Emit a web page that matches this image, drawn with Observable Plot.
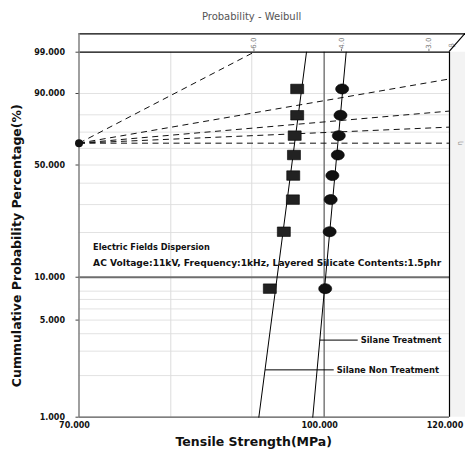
<!DOCTYPE html>
<html><head><meta charset="utf-8">
<script src="https://cdn.jsdelivr.net/npm/d3@7"></script>
<script src="https://cdn.jsdelivr.net/npm/@observablehq/plot@0.6"></script>
<style>body{margin:0;background:#fff} svg{display:block}</style>
</head><body><div id="chart"></div>
<script>
// ---- data ----
const probs = [8.33, 20.24, 32.14, 44.05, 55.95, 67.86, 79.76, 91.67];   // median ranks, %
const nonTreat = [92.4, 94.3, 95.55, 95.6, 95.7, 95.8, 96.15, 96.15];   // MPa
const treat = [100.15, 100.8, 100.95, 101.2, 102.0, 102.15, 102.4, 102.65]; // MPa
const seriesNames = ["Silane Non Treatment", "Silane Treatment"];
const fitEta = [95.79, 102.01];
const fitBeta = [88.4, 126];
const labelP = [2.2, 3.6];
const labelX = [101.4, 105.0];
const betaLines = [6, 2, 1, 0.5, 0];
const betaTicks = [6, 4, 3];
const yTicks = [1, 5, 10, 50, 90, 99];
const yGrid = [2, 3, 4, 5, 6, 7, 8, 20, 30, 40, 50, 60, 70, 80, 90];
const xTicks = [70, 100, 120];
const xGrid = [80, 90];
const pivotX = 70, pivotP = 63.212;
const annotLines = ["Electric Fields Dispersion", "AC Voltage:11kV, Frequency:1kHz, Layered Silicate Contents:1.5phr"];
const annotP = [15.85, 12.57];
const annotX = 71.45;
const xMin = 70, xMax = 120, pMin = 1, pMax = 99;

// ---- helpers ----
const wb = p => Math.log(-Math.log(1 - p / 100));
const inv = w => 100 * (1 - Math.exp(-Math.exp(w)));
const w0 = wb(pivotP), wTop = wb(pMax), wBot = wb(pMin);

const points = [
  ...probs.map((p, i) => ({series: seriesNames[0], x: nonTreat[i], y: wb(p)})),
  ...probs.map((p, i) => ({series: seriesNames[1], x: treat[i], y: wb(p)}))
];
const fitLines = seriesNames.flatMap((s, i) => [pMin, pMax].map(p => ({series: s, x: fitEta[i] * Math.exp(wb(p) / fitBeta[i]), y: wb(p)})));
const labels = seriesNames.map((s, i) => ({name: s, y: wb(labelP[i]), x1: fitEta[i] * Math.exp(wb(labelP[i]) / fitBeta[i]), x2: labelX[i]}));
const construction = betaLines.map(b => {
  const xt = b > 0 ? pivotX * Math.exp((wTop - w0) / b) : Infinity;
  return xt <= xMax ? {x2: xt, y2: wTop} : {x2: xMax, y2: w0 + b * Math.log(xMax / pivotX)};
});

const kap = 0.5523;
const ellipse = {draw(ctx) { const rx = 6.5, ry = 5;
  ctx.moveTo(rx, 0);
  ctx.bezierCurveTo(rx, ry * kap, rx * kap, ry, 0, ry);
  ctx.bezierCurveTo(-rx * kap, ry, -rx, ry * kap, -rx, 0);
  ctx.bezierCurveTo(-rx, -ry * kap, -rx * kap, -ry, 0, -ry);
  ctx.bezierCurveTo(rx * kap, -ry, rx, -ry * kap, rx, 0);
  ctx.closePath(); }};
const box = {draw(ctx) { ctx.rect(-6.5, -4.75, 13, 9.5); }};

const F = "DejaVu Sans, Verdana, sans-serif";
const chart = Plot.plot({
  width: 465, height: 450,
  marginLeft: 78.5, marginRight: 16, marginTop: 51.7, marginBottom: 33.3,
  x: {type: "log", domain: [xMin, xMax], axis: null},
  y: {domain: [wBot, wTop]},
  style: {fontFamily: F, background: "white", fontWeight: "bold", color: "#111"},
  marks: [
    Plot.rect([0], {x1: xMax, x2: xMax, y1: wBot, y2: wTop, insetRight: -16, fill: "#f3f3f3"}),
    Plot.ruleY(yGrid.map(wb), {stroke: "#e2e2e2", strokeWidth: 1}),
    Plot.ruleX(xGrid, {stroke: "#dcdcdc", strokeWidth: 1}),
    Plot.ruleY([wb(10)], {stroke: "#6e6e6e", strokeWidth: 2}),
    Plot.ruleX([100], {stroke: "#7a7a7a", strokeWidth: 1.5}),
    Plot.ruleY([wTop], {stroke: "#000", strokeWidth: 1.2}),
    Plot.ruleY([wTop], {x1: xMin, x2: xMax, dy: -18.4, insetRight: -16, stroke: "#000", strokeWidth: 1.2}),
    Plot.ruleX([xMax], {stroke: "#000", strokeWidth: 1.2}),
    Plot.ruleX([xMin], {stroke: "#888", strokeWidth: 1.6, insetTop: -18.4}),
    Plot.ruleY([wBot], {stroke: "#555", strokeWidth: 1.2}),
    Plot.axisY(yTicks.map(wb), {tickFormat: w => d3.format(".3f")(inv(w)), tickSize: 3, tickPadding: 11, fontSize: 8, fontWeight: "bold", label: null, stroke: "#444"}),
    Plot.text(xTicks, {x: d => d, frameAnchor: "bottom", lineAnchor: "middle", dy: 8, dx: -4.5, text: d3.format(".3f"), fontSize: 8, fontWeight: "bold", fill: "#111"}),
    Plot.link(construction, {x1: pivotX, y1: w0, x2: "x2", y2: "y2", stroke: "#111", strokeWidth: 1, strokeDasharray: "6,4.5"}),
    Plot.text(betaTicks, {x: b => pivotX * Math.exp((wTop - w0) / b), y: wTop, text: d3.format(".1f"), rotate: -90, dy: -9, fontSize: 7, fontWeight: "normal", fill: "#777"}),
    Plot.ruleX(betaTicks, {x: b => pivotX * Math.exp((wTop - w0) / b), y1: wTop, y2: wTop, insetTop: -3, stroke: "#777"}),
    Plot.text(["β"], {x: xMax, y: wTop, dx: 2, dy: -7, rotate: -90, fontSize: 7, fontWeight: "normal", fill: "#888"}),
    Plot.text(["η"], {x: xMax, y: w0, dx: 10, rotate: -90, fontSize: 7, fontWeight: "normal", fill: "#888"}),
    Plot.line(fitLines, {x: "x", y: "y", z: "series", stroke: "#000", strokeWidth: 1}),
    Plot.link(labels, {x1: "x1", x2: "x2", y1: "y", y2: "y", stroke: "#000", strokeWidth: 1}),
    Plot.text(labels, {x: "x2", y: "y", text: "name", textAnchor: "start", dx: 3, fontSize: 8.4, fontWeight: "bold", fill: "#111"}),
    Plot.dot(points.filter(d => d.series === seriesNames[0]), {x: "x", y: "y", symbol: box, fill: "#222", stroke: "#000", strokeWidth: 0.6}),
    Plot.dot(points.filter(d => d.series === seriesNames[1]), {x: "x", y: "y", symbol: ellipse, fill: "#111", stroke: "#000", strokeWidth: 0.6}),
    Plot.dot([0], {x: pivotX, y: w0, r: 4, fill: "#111"}),
    Plot.text(annotLines, {x: annotX, y: (d, i) => wb(annotP[i]), text: d => d, textAnchor: "start", fontSize: (d, i) => i === 0 ? 8.2 : 9.1, fontWeight: "bold", fill: "#111"}),
    Plot.text(["Probability - Weibull"], {frameAnchor: "top", lineAnchor: "middle", dy: -35, dx: -12.7, fontSize: 10, fontWeight: "normal", fill: "#555"}),
    Plot.text(["Tensile Strength(MPa)"], {frameAnchor: "bottom", lineAnchor: "middle", dy: 25, dx: -10.5, fontSize: 12.5, fontWeight: "bold", fill: "#111"}),
    Plot.text(["Cummulative Probability Percentage(%)"], {frameAnchor: "left", textAnchor: "middle", lineAnchor: "middle", dx: -62, dy: 11, rotate: -90, fontSize: 12.5, fontWeight: "bold", fill: "#111"})
  ]
});
const sx = chart.scale("x"), sy = chart.scale("y");
d3.select(chart).append("line")
  .attr("x1", sx.apply(xMax)).attr("y1", sy.apply(wTop))
  .attr("x2", sx.apply(xMax) + 16).attr("y2", sy.apply(wTop) - 18.4)
  .attr("stroke", "#000").attr("stroke-width", 1.2);
document.getElementById("chart").appendChild(chart);
</script></body></html>
